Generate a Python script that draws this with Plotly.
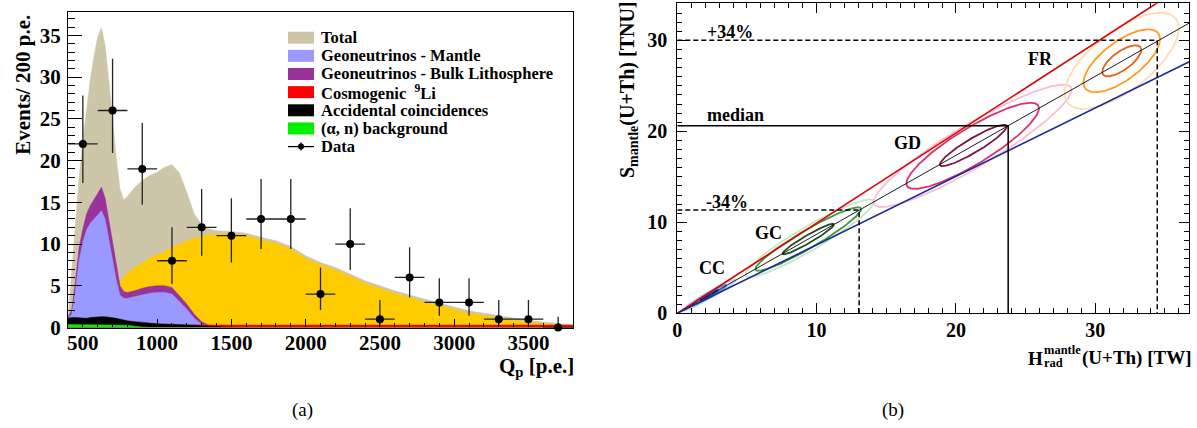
import numpy as np
import plotly.graph_objects as go

W, H = 1197, 428
SERIF = "Liberation Serif, Times New Roman, serif"

# ---------------- panel (a): Q_p spectrum ----------------
qp = [400, 425, 450, 475, 500, 525, 550, 575, 600, 625, 650, 675, 700, 725, 750, 775, 800,
      850, 900, 950, 1000, 1050, 1100, 1150, 1200, 1250, 1300, 1350, 1400,
      1500, 1600, 1700, 1800, 1900, 2000, 2100, 2200, 2300, 2400, 2500, 2600, 2700,
      2800, 2900, 3000, 3100, 3200, 3300, 3400, 3500, 3600, 3700, 3800]

total = [1.0, 7.0, 12.9, 18.0, 22.4, 26.3, 29.7, 32.5, 34.8, 35.9, 33.8, 29.6, 24.8, 20.3, 16.6, 15.3, 15.7,
         16.8, 17.6, 18.2, 18.6, 19.2, 19.5, 18.5, 16.2, 13.6, 12.3, 11.8, 11.6,
         11.5, 11.3, 10.8, 10.4, 9.7, 8.6, 7.8, 7.2, 6.4, 5.6, 5.0, 4.4, 3.9,
         3.4, 2.9, 2.45, 2.0, 1.7, 1.4, 1.1, 0.85, 0.65, 0.45, 0.3]

reactor = [0.3, 0.8, 1.3, 1.8, 2.3, 2.8, 3.3, 3.7, 4.1, 4.4, 4.7, 4.9, 5.0, 5.2, 5.4, 6.0, 6.5,
           7.2, 7.8, 8.3, 8.7, 9.1, 9.6, 10.0, 10.4, 10.7, 10.9, 11.1, 11.2,
           11.2, 11.0, 10.5, 10.1, 9.4, 8.3, 7.5, 6.9, 6.1, 5.3, 4.7, 4.1, 3.6,
           3.1, 2.6, 2.15, 1.75, 1.45, 1.15, 0.85, 0.65, 0.45, 0.3, 0.2]

bulk_litho = [1.3, 2.1, 5.6, 9.6, 11.8, 13.6, 14.6, 15.3, 16.0, 16.8, 15.5, 12.8, 10.3, 7.3, 5.0, 4.3, 4.2,
              4.4, 4.7, 4.9, 5.0, 5.0, 4.8, 3.8, 2.8, 1.6, 0.7, 0.25, 0.05,
              0, 0, 0, 0, 0, 0, 0, 0, 0, 0, 0, 0, 0,
              0, 0, 0, 0, 0, 0, 0, 0, 0, 0, 0]

mantle = [1.1, 1.6, 4.4, 8.1, 10.2, 11.7, 12.5, 13.0, 13.4, 14.0, 13.0, 10.6, 8.3, 5.7, 3.9, 3.5, 3.5,
          3.7, 3.9, 4.1, 4.2, 4.2, 4.0, 3.1, 2.2, 1.1, 0.4, 0.1, 0.0,
          0, 0, 0, 0, 0, 0, 0, 0, 0, 0, 0, 0, 0,
          0, 0, 0, 0, 0, 0, 0, 0, 0, 0, 0]

cosmo_li = [0.3, 0.3, 0.3, 0.3, 0.3, 0.3, 0.3, 0.3, 0.3, 0.3, 0.3, 0.3, 0.3, 0.3, 0.3, 0.3, 0.3,
            0.3, 0.3, 0.3, 0.3, 0.3, 0.3, 0.3, 0.3, 0.3, 0.3, 0.3, 0.3,
            0.3, 0.3, 0.3, 0.3, 0.3, 0.3, 0.3, 0.3, 0.3, 0.3, 0.3, 0.3, 0.3,
            0.3, 0.3, 0.3, 0.3, 0.3, 0.3, 0.3, 0.3, 0.3, 0.3, 0.3]

accidental = [1.1, 1.2, 1.2, 1.15, 1.1, 1.1, 1.2, 1.25, 1.3, 1.3, 1.3, 1.25, 1.2, 1.1, 1.0, 0.9, 0.8,
              0.7, 0.6, 0.5, 0.45, 0.42, 0.4, 0.38, 0.35, 0.3, 0.25, 0.15, 0.08,
              0.02, 0, 0, 0, 0, 0, 0, 0, 0, 0, 0, 0, 0,
              0, 0, 0, 0, 0, 0, 0, 0, 0, 0, 0]

alpha_n = [0.35, 0.35, 0.35, 0.35, 0.35, 0.35, 0.35, 0.35, 0.35, 0.35, 0.35, 0.35, 0.35, 0.35, 0.35, 0.33, 0.28,
           0.15, 0.05, 0, 0, 0, 0, 0, 0, 0, 0, 0, 0,
           0, 0, 0, 0, 0, 0, 0, 0, 0, 0, 0, 0, 0,
           0, 0, 0, 0, 0, 0, 0, 0, 0, 0, 0]

data_q = [500, 700, 900, 1100, 1300, 1500, 1700, 1900, 2100, 2300, 2500, 2700, 2900, 3100, 3300, 3500, 3700]
data_n = [22, 26, 19, 8, 12, 11, 13, 13, 4, 10, 1, 6, 3, 3, 1, 1, 0]
data_err_hi = [5.8, 6.2, 5.5, 4.0, 4.6, 4.5, 4.8, 4.8, 3.2, 4.3, 2.3, 3.6, 2.9, 2.9, 2.3, 2.3, 1.3]
data_err_lo = [4.7, 5.1, 4.3, 2.8, 3.4, 3.2, 3.6, 3.6, 1.9, 3.1, 0.8, 2.4, 1.6, 1.6, 0.8, 0.8, 0.0]
bin_half = [100, 100, 100, 100, 100, 100, 100, 100, 100, 100, 100, 100, 100, 100, 100, 100, 100]

legend_labels = ["Total", "Geoneutrinos - Mantle", "Geoneutrinos - Bulk Lithosphere",
                 "Cosmogenic  <sup>9</sup>Li", "Accidental coincidences", "(α, n) background", "Data"]

C_TOTAL, C_REACT, C_MANT, C_BULK = "#cdc6a9", "#ffcc00", "#9999ff", "#993399"
C_LI, C_ACC, C_AN = "#ff0000", "#000000", "#00f000"

# ---------------- panel (b): S_mantle vs H_rad ----------------
upper_line_x, upper_line_y = [0, 36.75], [0, 36.4]
lower_line_x, lower_line_y = [0, 36.75], [0, 27.65]
center_line_x, center_line_y = [0, 36.75], [0, 31.9]
center_slope = 0.868

level_y = [30.0, 20.6, 11.35]
level_x = [34.45, 23.75, 13.05]
level_dash = ["5px,3px", "solid", "5px,3px"]

ell_cx = [2.3, 2.3, 2.3, 9.5, 9.4, 9.4, 21.2, 21.2, 21.25, 31.9, 31.9, 31.9]
ell_cy = [2.0, 2.0, 2.0, 8.25, 8.16, 8.16, 18.4, 18.4, 18.45, 27.75, 27.75, 27.75]
ell_a = [1.9, 1.25, 0.65, 4.6, 3.8, 1.85, 7.1, 4.76, 2.4, 4.1, 2.75, 1.4]
ell_w = [0.42, 0.28, 0.14, 1.5, 1.15, 0.5, 2.7, 2.3, 0.9, 3.9, 2.5, 1.2]
ell_col = ["#b3d9f7", "#4d8fdc", "#1f4fb0", "#c4e6c4", "#3c9a3c", "#1e4d1e",
           "#f7c0d3", "#e0306a", "#7a1548", "#ffdcb4", "#ff9a1a", "#e2621a"]

b_text = ["+34%", "median", "-34%", "GC", "CC", "GD", "FR"]
b_text_x = [3.75, 4.17, 3.6, 6.56, 2.5, 16.5, 26.1]
b_text_y = [30.95, 21.8, 12.26, 8.8, 4.95, 18.7, 28.0]

fig = go.Figure()

def area(y, color):
    fig.add_trace(go.Scatter(x=qp, y=y, mode="lines", fill="tozeroy", fillcolor=color,
                             line=dict(color=color, width=0.5), showlegend=False,
                             xaxis="x", yaxis="y", hoverinfo="skip"))

area(total, C_TOTAL)
area(reactor, C_REACT)
area(bulk_litho, C_BULK)
area(mantle, C_MANT)
area(cosmo_li, C_LI)
area(accidental, C_ACC)
area(alpha_n, C_AN)

fig.add_trace(go.Scatter(
    x=data_q, y=data_n, mode="markers", xaxis="x", yaxis="y", showlegend=False,
    marker=dict(color="black", size=8), cliponaxis=False,
    error_y=dict(type="data", symmetric=False, array=data_err_hi, arrayminus=data_err_lo,
                 color="#222", thickness=1.3, width=0),
    error_x=dict(type="data", array=bin_half, color="#222", thickness=1.3, width=0)))

# ellipses (sheared along the centre line)
t = np.linspace(0, 2 * np.pi, 240)
for cx, cy, a, w, col in zip(ell_cx, ell_cy, ell_a, ell_w, ell_col):
    ex = cx + a * np.cos(t)
    ey = cy + center_slope * a * np.cos(t) + w * np.sin(t)
    fig.add_trace(go.Scatter(x=ex, y=ey, mode="lines", line=dict(color=col, width=1.8),
                             xaxis="x2", yaxis="y2", showlegend=False, hoverinfo="skip"))

fig.add_trace(go.Scatter(x=center_line_x, y=center_line_y, mode="lines", line=dict(color="black", width=0.9),
                         xaxis="x2", yaxis="y2", showlegend=False))
fig.add_trace(go.Scatter(x=upper_line_x, y=upper_line_y, mode="lines", line=dict(color="#e00000", width=1.6),
                         xaxis="x2", yaxis="y2", showlegend=False))
fig.add_trace(go.Scatter(x=lower_line_x, y=lower_line_y, mode="lines", line=dict(color="#1c2a96", width=1.6),
                         xaxis="x2", yaxis="y2", showlegend=False))
for ly, lx, ld in zip(level_y, level_x, level_dash):
    fig.add_trace(go.Scatter(x=[0, lx, lx], y=[ly, ly, 0], mode="lines",
                             line=dict(color="black", width=1.5, dash=ld),
                             xaxis="x2", yaxis="y2", showlegend=False))

def px(xp):
    return xp / W

def py(yp):
    return 1 - yp / H

tickfont = lambda s: dict(family=SERIF, size=s, color="black", weight="bold")
common = dict(showgrid=False, zeroline=False, showline=True, linecolor="black", linewidth=1.2,
              ticks="inside", tickcolor="black", tickwidth=1, automargin=False)

fig.update_layout(
    template="none",
    width=W, height=H, margin=dict(l=0, r=0, t=0, b=0, pad=0, autoexpand=False), autosize=False,
    paper_bgcolor="white", plot_bgcolor="white", showlegend=False,
    xaxis=dict(common, domain=[px(68), px(573)], range=[400, 3800], anchor="y",
               tickmode="linear", tick0=500, dtick=500, ticklen=8, mirror=True,
               minor=dict(ticks="inside", dtick=100, tick0=400, ticklen=4, tickcolor="black"),
               tickfont=tickfont(21), ticklabelstandoff=-4),
    yaxis=dict(common, domain=[py(327.5), py(12)], range=[0, 37.8], anchor="x",
               tickmode="linear", tick0=0, dtick=5, ticklen=14, mirror=True,
               minor=dict(ticks="inside", dtick=1, ticklen=7, tickcolor="black"),
               tickfont=tickfont(21), ticklabelstandoff=2),
    xaxis2=dict(common, domain=[px(677.3), px(1189.3)], range=[0, 36.75], anchor="y2",
                tickmode="linear", tick0=0, dtick=10, ticklen=10, mirror="ticks",
                minor=dict(ticks="inside", dtick=1, ticklen=5, tickcolor="black"),
                tickfont=tickfont(20), ticklabelstandoff=-1),
    yaxis2=dict(common, domain=[py(313.3), py(3.3)], range=[0, 34.07], anchor="x2",
                tickmode="linear", tick0=0, dtick=10, ticklen=10, mirror="ticks",
                minor=dict(ticks="inside", dtick=1, ticklen=5, tickcolor="black"),
                tickfont=tickfont(20), ticklabelstandoff=5),
)

ann = []
shapes = []
# axis titles, panel (a)
ann.append(dict(text="<b>Events/ 200 p.e.</b>", x=px(23.3), y=py(84.5), xref="paper", yref="paper",
                textangle=-90, showarrow=False, xanchor="center", yanchor="middle",
                font=dict(family=SERIF, size=21, color="black")))
ann.append(dict(text="<b>Q<sub>p</sub> [p.e.]</b>", x=px(497), y=py(367), xref="paper", yref="paper",
                showarrow=False, xanchor="left", yanchor="middle",
                font=dict(family=SERIF, size=21, color="black")))
# axis titles, panel (b)
ann.append(dict(text="<b>S<sub>mantle</sub>(U+Th) [TNU]</b>", x=px(629), y=py(90), xref="paper", yref="paper",
                textangle=-90, showarrow=False, xanchor="center", yanchor="middle",
                font=dict(family=SERIF, size=20, color="black")))
ann.append(dict(text="<b>H</b>", x=px(1026), y=py(358), xref="paper", yref="paper",
                showarrow=False, xanchor="left", yanchor="middle",
                font=dict(family=SERIF, size=19, color="black")))
ann.append(dict(text="<b>mantle</b>", x=px(1042.5), y=py(349.5), xref="paper", yref="paper",
                showarrow=False, xanchor="left", yanchor="middle", borderpad=0,
                font=dict(family=SERIF, size=12.5, color="black")))
ann.append(dict(text="<b>rad</b>", x=px(1042.5), y=py(363), xref="paper", yref="paper",
                showarrow=False, xanchor="left", yanchor="middle", borderpad=0,
                font=dict(family=SERIF, size=12.5, color="black")))
ann.append(dict(text="<b>(U+Th) [TW]</b>", x=px(1080), y=py(358), xref="paper", yref="paper",
                showarrow=False, xanchor="left", yanchor="middle",
                font=dict(family=SERIF, size=19, color="black")))
# captions
ann.append(dict(text="(a)", x=px(302), y=py(410), xref="paper", yref="paper", showarrow=False,
                xanchor="center", yanchor="middle",
                font=dict(family=SERIF, size=19, color="black")))
ann.append(dict(text="(b)", x=px(893), y=py(410), xref="paper", yref="paper", showarrow=False,
                xanchor="center", yanchor="middle",
                font=dict(family=SERIF, size=19, color="black")))
# in-plot labels (b)
for txt, tx, ty in zip(b_text, b_text_x, b_text_y):
    ann.append(dict(text="<b>%s</b>" % txt, x=tx, y=ty, xref="x2", yref="y2", showarrow=False,
                    xanchor="center", yanchor="middle", font=dict(family=SERIF, size=18, color="black")))

# legend (a)
row_y = [37.7, 55.85, 74.0, 92.15, 110.3, 128.45, 146.6]
sw_colors = [C_TOTAL, C_MANT, C_BULK, C_LI, C_ACC, C_AN, None]
for lab, ry, col in zip(legend_labels, row_y, sw_colors):
    if col is not None:
        shapes.append(dict(type="rect", xref="paper", yref="paper", x0=px(288), x1=px(314),
                           y0=py(ry + 6), y1=py(ry - 6), fillcolor=col, line=dict(width=0)))
    else:
        shapes.append(dict(type="line", xref="paper", yref="paper", x0=px(288), x1=px(314),
                           y0=py(ry), y1=py(ry), line=dict(color="black", width=1.3)))
        shapes.append(dict(type="line", xref="paper", yref="paper", x0=px(301), x1=px(301),
                           y0=py(ry - 4), y1=py(ry + 4), line=dict(color="black", width=1.3)))
        shapes.append(dict(type="circle", xref="paper", yref="paper", x0=px(298), x1=px(304),
                           y0=py(ry + 3), y1=py(ry - 3), fillcolor="black", line=dict(width=0)))
    ann.append(dict(text="<b>%s</b>" % lab, x=px(319), y=py(ry), xref="paper", yref="paper",
                    showarrow=False, xanchor="left", yanchor="middle",
                    font=dict(family=SERIF, size=16.5, color="black")))

fig.update_layout(annotations=ann, shapes=shapes)
fig.write_html("out.html", config={"displayModeBar": False},
               post_script="document.body.style.margin='0';document.body.style.overflow='hidden';")
